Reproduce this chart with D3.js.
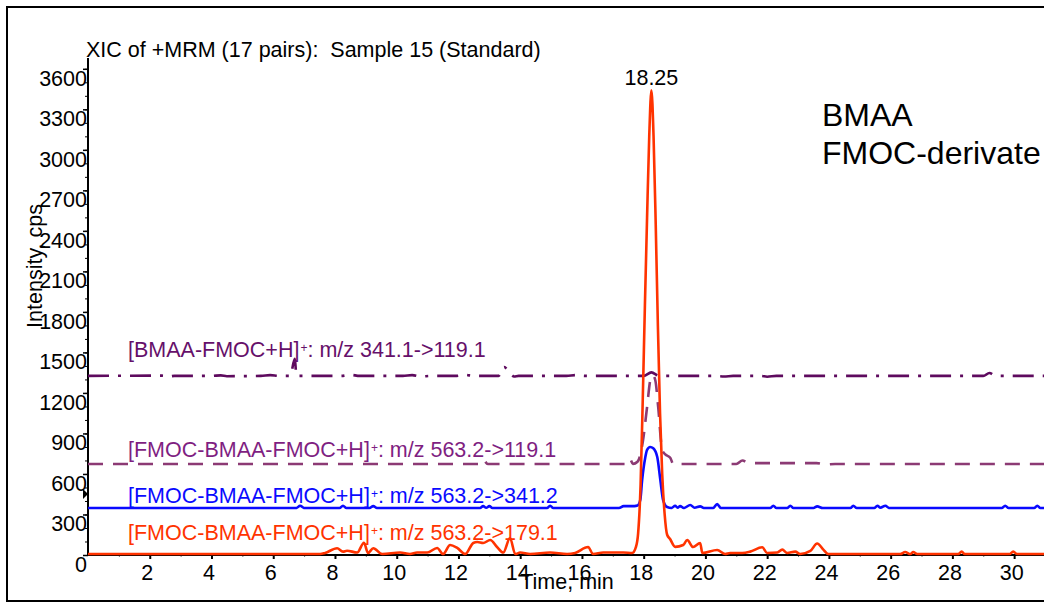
<!DOCTYPE html>
<html>
<head>
<meta charset="utf-8">
<script src="https://cdn.jsdelivr.net/npm/d3@7"></script>
<style>
  body { margin: 0; background: #fff; }
  svg { display: block; font-family: "Liberation Sans", Arial, sans-serif; }
</style>
</head>
<body>
<svg id="chart" width="1044" height="604"></svg>
<script>
// ticks
var xTicks = [2, 4, 6, 8, 10, 12, 14, 16, 18, 20, 22, 24, 26, 28, 30];
var xMinor = [1, 3, 5, 7, 9, 11, 13, 15, 17, 19, 21, 23, 25, 27, 29];
var yTicks = [0, 300, 600, 900, 1200, 1500, 1800, 2100, 2400, 2700, 3000, 3300, 3600];
var yMinor = d3.range(0, 3700, 100);

// traces, [time min, intensity cps]
var bmaa341 = [[0,1326],[2.4,1328],[2.6,1322],[2.8,1326],[4.0,1326],[4.3,1330],[4.5,1324],[5.6,1326],[5.9,1332],[6.2,1326],
  [6.55,1326],[6.7,1452],[6.75,1330],[6.8,1326],[8.2,1326],[8.5,1334],[8.8,1326],[10.2,1326],[10.5,1332],[10.8,1322],[11.1,1326],
  [11.9,1326],[12.2,1334],[12.5,1326],[13.3,1326],[13.48,1392],[13.65,1352],[13.8,1322],[13.95,1326],[15.5,1326],[15.8,1332],
  [16.1,1326],[18.0,1326],[18.25,1352],[18.5,1326],[20.3,1326],[20.6,1322],[20.9,1326],[21.8,1326],[22.0,1320],[22.3,1326],
  [29.0,1326],[29.2,1348],[29.4,1326],[31,1326]];

var fmoc119 = [[0,674],[12.65,674],[12.8,705],[12.95,674],[17.45,674],[17.56,710],[17.65,674],[17.8,690],[17.89,741],[17.98,851],
  [18.11,1096],[18.22,1300],[18.3,1330],[18.38,1290],[18.47,1096],[18.6,777],[18.7,745],[18.86,720],[18.96,674],[21.0,674],
  [21.2,700],[21.4,680],[23.6,680],[23.9,670],[24.2,674],[31,674]];

var fmoc341 = [[0,348],[6.75,348],[6.87,365],[7.0,348],[8.15,348],[8.26,365],[8.37,348],[9.12,348],[9.24,362],[9.36,348],
  [12.7,348],[12.8,362],[12.9,350],[13.0,362],[13.1,348],[14.87,348],[14.97,365],[15.07,348],[17.2,348],[17.35,362],[17.7,362],
  [17.8,366],[17.89,407],[17.95,555],[18.05,720],[18.11,778],[18.21,800],[18.31,790],[18.44,726],[18.54,555],[18.63,407],
  [18.76,355],[18.9,348],[19.02,365],[19.1,350],[19.18,362],[19.3,348],[19.51,370],[19.65,350],[19.83,360],[19.95,348],
  [20.25,348],[20.38,378],[20.5,348],[22.1,348],[22.2,365],[22.3,348],[22.65,348],[22.75,365],[22.85,348],[23.5,348],
  [23.62,360],[23.8,348],[24.7,348],[24.79,365],[24.9,348],[25.47,348],[25.57,365],[25.67,350],[25.83,365],[25.95,348],
  [29.6,348],[29.71,365],[29.82,348],[30.65,348],[30.75,365],[30.85,348],[31,348]];

var fmoc179 = [[0,7],[7.52,7],[7.68,15],[8.07,50],[8.26,25],[8.39,32],[8.72,18],[8.94,91],[9.07,15],[9.24,50],[9.53,7],
  [10.11,18],[10.43,7],[10.66,18],[10.99,18],[11.31,52],[11.5,7],[11.73,74],[11.96,52],[12.22,7],[12.48,89],[12.61,96],
  [12.8,89],[13.03,111],[13.25,59],[13.45,18],[13.67,126],[13.84,7],[14.0,18],[14.32,7],[14.97,18],[15.52,7],[15.78,15],
  [16.2,59],[16.36,7],[16.69,18],[17.34,18],[17.63,15],[17.75,60],[17.82,160],[17.9,520],[17.97,1150],[18.04,1850],
  [18.11,2500],[18.18,3100],[18.25,3440],[18.32,3100],[18.39,2450],[18.46,1700],[18.53,1050],[18.6,600],[18.68,300],
  [18.76,150],[18.85,120],[19.02,60],[19.28,74],[19.41,111],[19.6,59],[19.83,89],[19.9,15],[20.38,37],[20.64,7],[20.8,15],
  [21.19,15],[21.45,25],[21.84,57],[22.0,15],[22.33,18],[22.49,40],[22.65,15],[22.91,25],[23.07,7],[23.4,30],[23.62,85],
  [23.82,40],[23.98,7],[26.31,7],[26.47,22],[26.64,7],[26.73,22],[26.86,7],[28.19,7],[28.3,25],[28.4,7],[29.85,7],
  [29.97,25],[30.1,7],[31,7]];

var traces = [
  {name: "bmaa341", data: bmaa341, color: "#5e0a5e", dash: "21,9,3,9", label: "[BMAA-FMOC+H]", rest: ": m/z 341.1->119.1", labelColor: "#66106a", ly: 357},
  {name: "fmoc119", data: fmoc119, color: "#8c3a74", dash: "15,10", label: "[FMOC-BMAA-FMOC+H]", rest: ": m/z 563.2->119.1", labelColor: "#7f1f82", ly: 457},
  {name: "fmoc341", data: fmoc341, color: "#0a0aff", dash: null, label: "[FMOC-BMAA-FMOC+H]", rest: ": m/z 563.2->341.2", labelColor: "#0a0aff", ly: 503},
  {name: "fmoc179", data: fmoc179, color: "#ff3300", dash: null, label: "[FMOC-BMAA-FMOC+H]", rest: ": m/z 563.2->179.1", labelColor: "#ff3300", ly: 540}
];

var svg = d3.select("#chart");
var fs = 21.5;

svg.append("rect")
    .attr("x", 7).attr("y", 7)
    .attr("width", 1060).attr("height", 594)
    .attr("fill", "#fff")
    .attr("stroke", "#000")
    .attr("stroke-width", 2);

var x = d3.scaleLinear().domain([0, 31]).range([88, 1045]);
var y = d3.scaleLinear().domain([0, 3680]).range([555, 58]);

// x axis
var gx = svg.append("g").attr("transform", "translate(0,555)");
gx.call(d3.axisBottom(x).tickValues(xMinor).tickSize(2).tickFormat(""))
    .select(".domain").remove();
gx.selectAll(".tick line").attr("stroke", "#777");

var gx2 = svg.append("g").attr("transform", "translate(0,555)");
gx2.call(d3.axisBottom(x).tickValues(xTicks).tickSize(4).tickPadding(6).tickFormat(d3.format("d")));
gx2.selectAll("text").attr("font-size", fs).attr("font-family", "Liberation Sans, Arial").attr("fill", "#000").attr("dx", -3);
gx2.selectAll(".tick line").attr("stroke-width", 2);
gx2.select(".domain").attr("stroke-width", 2).attr("d", "M88,0H1045");

// y axis
var gy = svg.append("g").attr("transform", "translate(88,0)");
gy.call(d3.axisLeft(y).tickValues(yMinor).tickSize(3).tickFormat(""))
    .select(".domain").remove();

var gy2 = svg.append("g").attr("transform", "translate(88,0)");
gy2.call(d3.axisLeft(y).tickValues(yTicks).tickSize(5).tickFormat(d3.format("d")));
gy2.selectAll("text").attr("font-size", fs).attr("font-family", "Liberation Sans, Arial").attr("fill", "#000")
    .attr("x", -1).attr("dy", "0.76em");
gy2.selectAll(".tick line").attr("stroke-width", 1.5);
gy2.select(".domain").attr("stroke-width", 2).attr("d", "M0,555V58");

// little marker on the y axis
svg.append("path").attr("d", "M83,489L88,494L83,499Z").attr("fill", "#000");

// traces
var line = d3.line()
    .x(function(d) { return x(d[0]); })
    .y(function(d) { return y(d[1]); })
    .curve(d3.curveMonotoneX);

var plot = svg.append("g");
traces.forEach(function(t) {
    plot.append("path")
        .datum(t.data)
        .attr("class", t.name)
        .attr("d", line)
        .attr("fill", "none")
        .attr("stroke", t.color)
        .attr("stroke-width", 2.6)
        .attr("stroke-linejoin", "round")
        .attr("stroke-dasharray", t.dash);
});

// trace labels
traces.forEach(function(t) {
    var tx = svg.append("text")
        .attr("x", 128).attr("y", t.ly)
        .attr("font-size", fs)
        .attr("fill", t.labelColor);
    tx.append("tspan").text(t.label);
    tx.append("tspan").attr("font-size", 12).attr("dy", -5).attr("dx", 1).text("+");
    tx.append("tspan").attr("dy", 5).text(t.rest);
});

// texts
svg.append("text")
    .attr("x", 86).attr("y", 57)
    .attr("font-size", fs)
    .attr("xml:space", "preserve")
    .style("white-space", "pre")
    .text("XIC of +MRM (17 pairs):  Sample 15 (Standard)");

svg.append("text")
    .attr("x", x(18.25)).attr("y", 85)
    .attr("text-anchor", "middle")
    .attr("font-size", fs)
    .text("18.25");

svg.append("text")
    .attr("transform", "translate(42,266) rotate(-90)")
    .attr("text-anchor", "middle")
    .attr("font-size", fs)
    .text("Intensity, cps");

svg.append("text")
    .attr("x", 567).attr("y", 589)
    .attr("text-anchor", "middle")
    .attr("font-size", fs)
    .text("Time, min");

svg.append("text").attr("x", 822).attr("y", 126).attr("font-size", 32).text("BMAA");
svg.append("text").attr("x", 822).attr("y", 164).attr("font-size", 32).text("FMOC-derivate");
</script>
</body>
</html>
